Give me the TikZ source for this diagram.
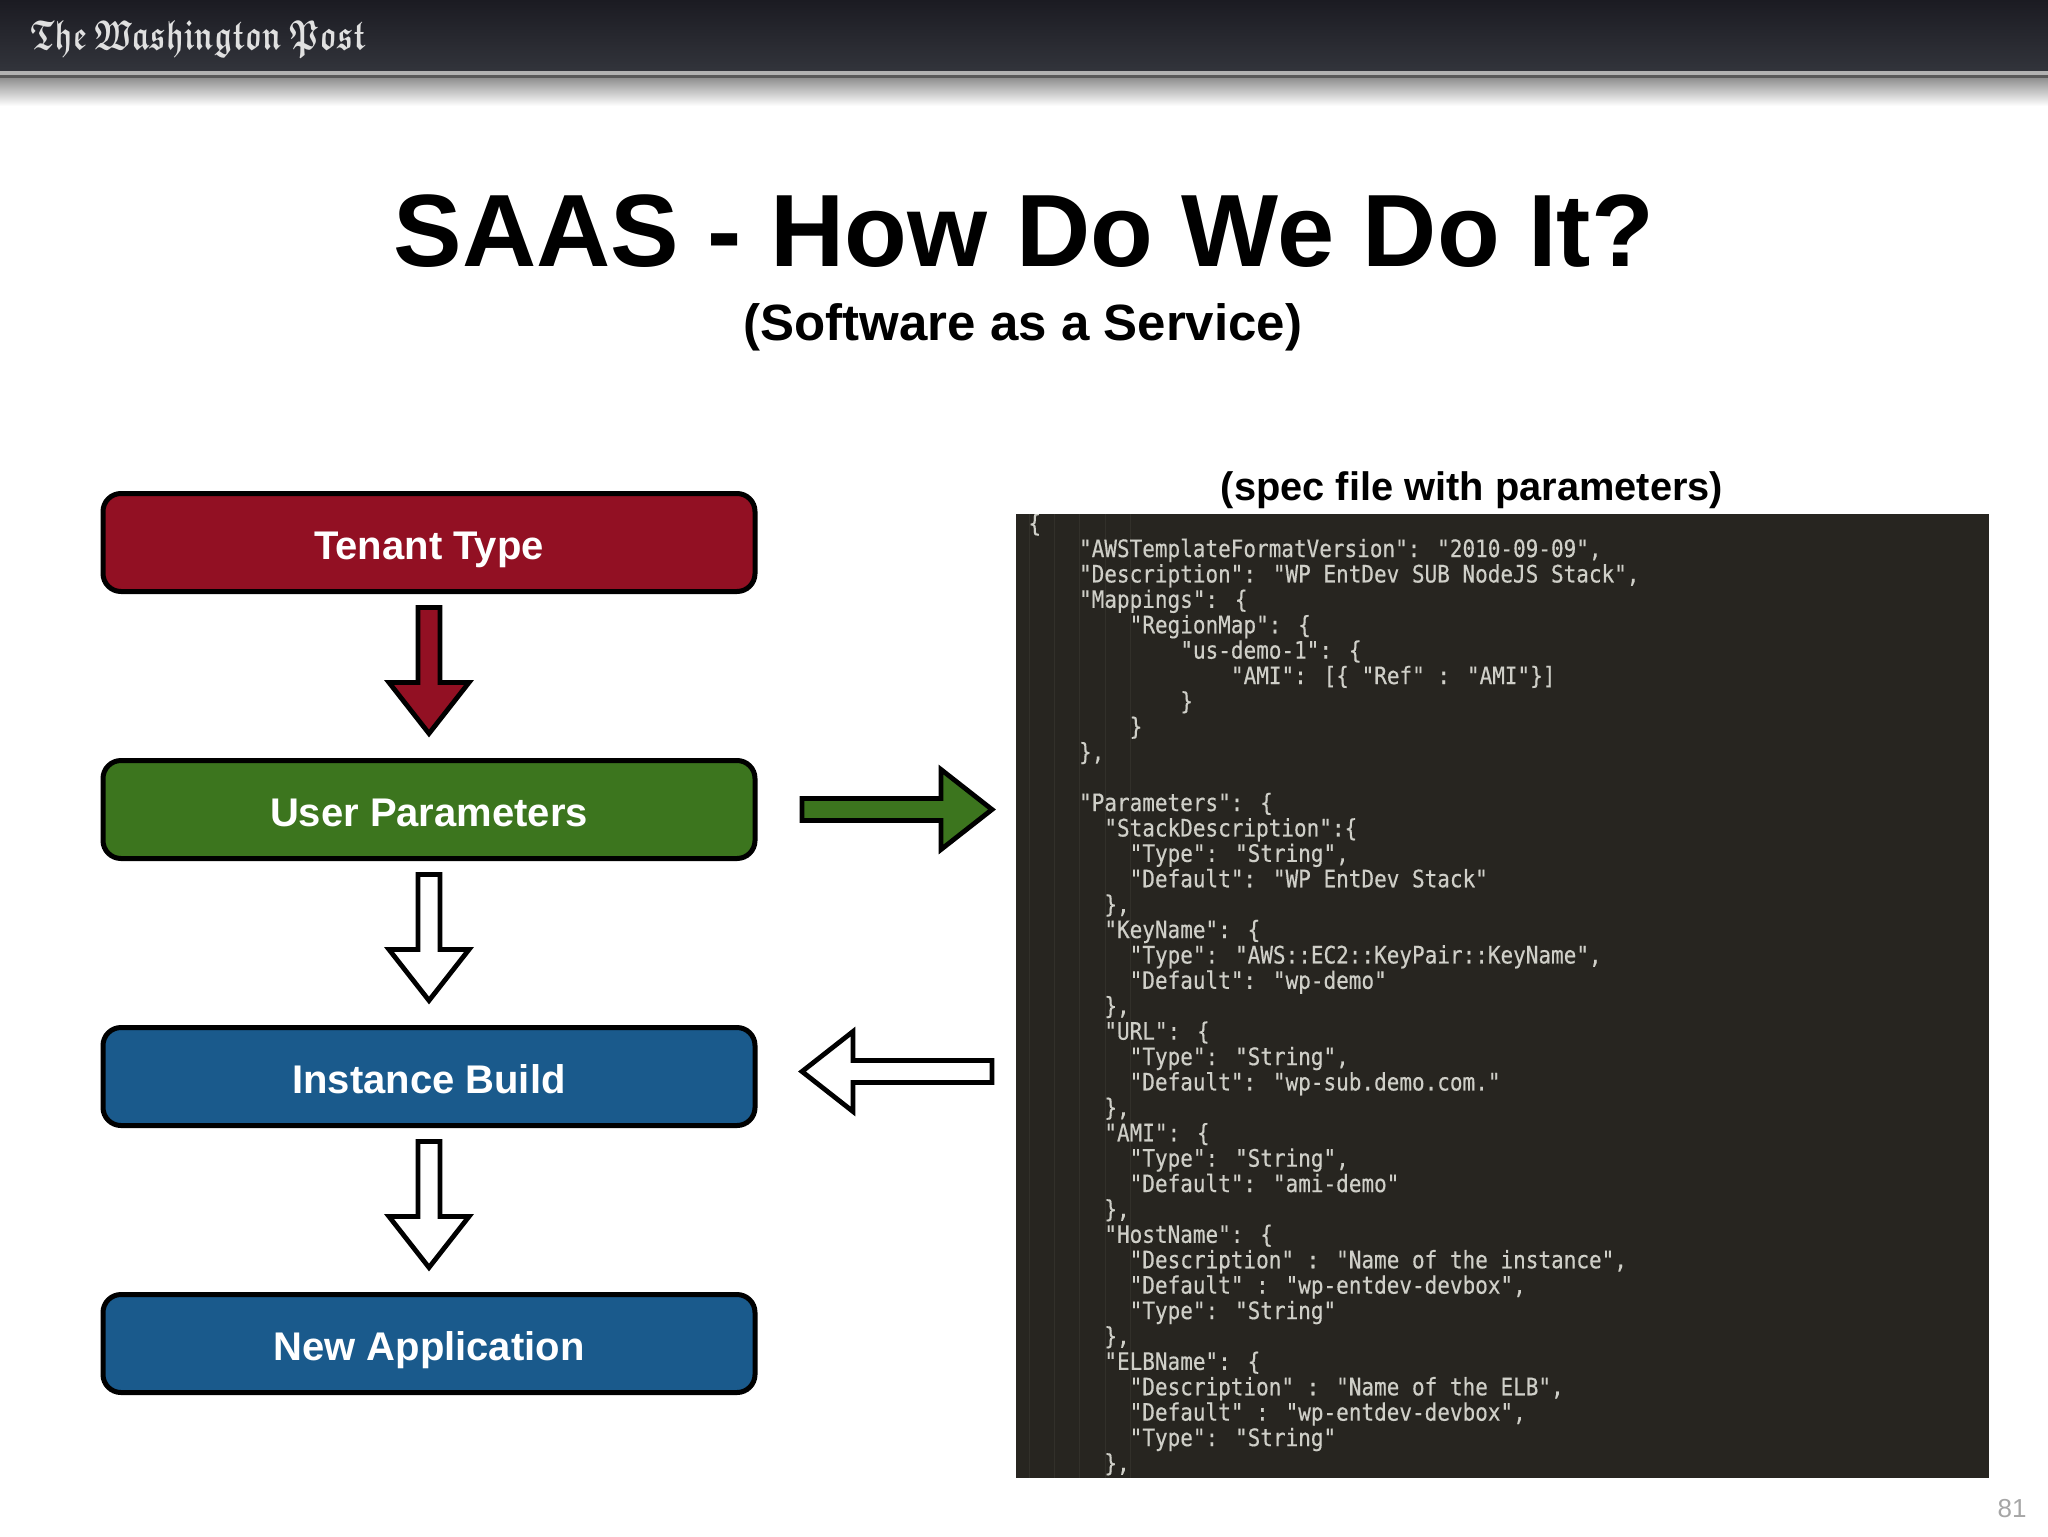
\documentclass[tikz,border=0pt]{standalone}
\usepackage{fontspec}
\usepackage{graphicx}
\setmainfont{Liberation Sans}
\newfontfamily\codefont[FakeStretch=0.875,FakeBold=0.4]{DejaVu Sans Mono}
\font\mastfont=eufb10 at 21pt
\usetikzlibrary{calc}
\definecolor{wpred}{HTML}{921023}
\definecolor{wpgreen}{HTML}{3C751E}
\definecolor{wpblue}{HTML}{1A5A8C}
\definecolor{panel}{HTML}{272520}
\definecolor{codetext}{HTML}{CFCFC8}
\definecolor{guide}{HTML}{32302A}
\definecolor{bandtop}{HTML}{1B1B22}
\definecolor{bandbot}{HTML}{32343B}
\tikzset{
  flowbox/.style={draw=black,line width=2.5pt,rounded corners=9pt,minimum width=326pt,minimum height=49pt,outer sep=0pt,inner sep=0pt,text=white,text height=17.2pt,text depth=0pt,font=\bfseries\fontsize{20}{24}\selectfont},
  blockarrow/.style={draw=black,line width=2.4pt,miter limit=10},
  headline/.style={inner sep=0pt,font=\bfseries\fontsize{51.4}{60}\selectfont},
  subline/.style={inner sep=0pt,font=\bfseries\fontsize{25.5}{30}\selectfont},
  specline/.style={inner sep=0pt,font=\bfseries\fontsize{19.9}{24}\selectfont}
}
\newcommand{\blockarr}[3]{%
  \coordinate (hb) at ($(#3)!25.5pt!(#2)$);
  \draw[blockarrow,fill=#1]
    ($(#2)!5.5pt!90:(#3)$) -- ($(hb)!5.5pt!90:(#3)$) -- ($(hb)!20pt!90:(#3)$) -- (#3)
    -- ($(hb)!20pt!-90:(#3)$) -- ($(hb)!5.5pt!-90:(#3)$) -- ($(#2)!5.5pt!-90:(#3)$) -- cycle;
}
\newcommand{\cl}[2]{\hspace*{#1\dimexpr 6.33pt\relax}#2\\}
\begin{document}
\begin{tikzpicture}[x=0.5pt,y=-0.5pt]
\useasboundingbox (0,0) rectangle (2048,1536);
\fill[white] (0,0) rectangle (2048,1536);
% header band
\shade[top color=bandtop,bottom color=bandbot] (0,0) rectangle (2048,71);
\fill[black!30] (0,71) rectangle (2048,75);
\fill[black!65] (0,75) rectangle (2048,79);
\shade[top color=black!42,bottom color=white] (0,79) rectangle (2048,106);
\node[anchor=west,inner sep=0pt,text=black!12,font=\mastfont] (masthead) at (30,39) {\scalebox{0.72}[1]{The\hspace{5pt}Washington\hspace{5pt}Post}};
% titles
\node[headline] (title) at (1024,231) {SAAS - How Do We Do It?};
\node[subline] (subtitle) at (1023,327) {(Software as a Service)};
\node[specline] (speclabel) at (1472,490) {(spec file with parameters)};
% flow boxes
\node[flowbox,fill=wpred] (tenant) at (429,542.5) {Tenant Type};
\node[flowbox,fill=wpgreen] (user) at (429,809.5) {User Parameters};
\node[flowbox,fill=wpblue] (build) at (429,1076.5) {Instance Build};
\node[flowbox,fill=wpblue] (app) at (429,1343.5) {New Application};
% code panel
\begin{scope}
\clip (1016,514) rectangle (1989,1478);
\fill[panel] (1016,514) rectangle (1989,1478);
\foreach \gx in {1029,1054,1079,1105,1130}
  \draw[guide,line width=0.5pt] (\gx,514) -- (\gx,1478);
\node[anchor=north west,inner sep=0pt,text=codetext,align=left,
  font=\codefont\fontsize{12}{12.7}\selectfont] (spec) at (1028,513) {%
\cl{0}{\{}
\cl{4}{"AWSTemplateFormatVersion": "2010-09-09",}
\cl{4}{"Description": "WP EntDev SUB NodeJS Stack",}
\cl{4}{"Mappings": \{}
\cl{8}{"RegionMap": \{}
\cl{12}{"us-demo-1": \{}
\cl{16}{"AMI": [\{ "Ref" : "AMI"\}]}
\cl{12}{\}}
\cl{8}{\}}
\cl{4}{\},}
\cl{0}{~}
\cl{4}{"Parameters": \{}
\cl{6}{"StackDescription":\{}
\cl{8}{"Type": "String",}
\cl{8}{"Default": "WP EntDev Stack"}
\cl{6}{\},}
\cl{6}{"KeyName": \{}
\cl{8}{"Type": "AWS::EC2::KeyPair::KeyName",}
\cl{8}{"Default": "wp-demo"}
\cl{6}{\},}
\cl{6}{"URL": \{}
\cl{8}{"Type": "String",}
\cl{8}{"Default": "wp-sub.demo.com."}
\cl{6}{\},}
\cl{6}{"AMI": \{}
\cl{8}{"Type": "String",}
\cl{8}{"Default": "ami-demo"}
\cl{6}{\},}
\cl{6}{"HostName": \{}
\cl{8}{"Description" : "Name of the instance",}
\cl{8}{"Default" : "wp-entdev-devbox",}
\cl{8}{"Type": "String"}
\cl{6}{\},}
\cl{6}{"ELBName": \{}
\cl{8}{"Description" : "Name of the ELB",}
\cl{8}{"Default" : "wp-entdev-devbox",}
\cl{8}{"Type": "String"}
\cl{6}{\},}
};
\end{scope}
% block arrows
\coordinate (a1s) at ($(tenant.south)+(0,16)$);
\coordinate (a1e) at ($(user.north)+(0,-27)$);
\coordinate (a2s) at ($(user.south)+(0,16)$);
\coordinate (a2e) at ($(build.north)+(0,-27)$);
\coordinate (a3s) at ($(build.south)+(0,16)$);
\coordinate (a3e) at ($(app.north)+(0,-27)$);
\coordinate (gs) at ($(user.east)+(47,0)$);
\coordinate (ge) at (992,809.5);
\coordinate (ws) at (992,1071.5);
\coordinate (we) at ($(build.east)+(47,-5)$);
\blockarr{wpred}{a1s}{a1e}
\blockarr{white}{a2s}{a2e}
\blockarr{white}{a3s}{a3e}
\blockarr{wpgreen}{gs}{ge}
\blockarr{white}{ws}{we}
% page number
\node[anchor=east,inner sep=0pt,text=black!35,font=\fontsize{13}{15}\selectfont] (pagenum) at (2027,1509) {81};
\end{tikzpicture}
\end{document}
